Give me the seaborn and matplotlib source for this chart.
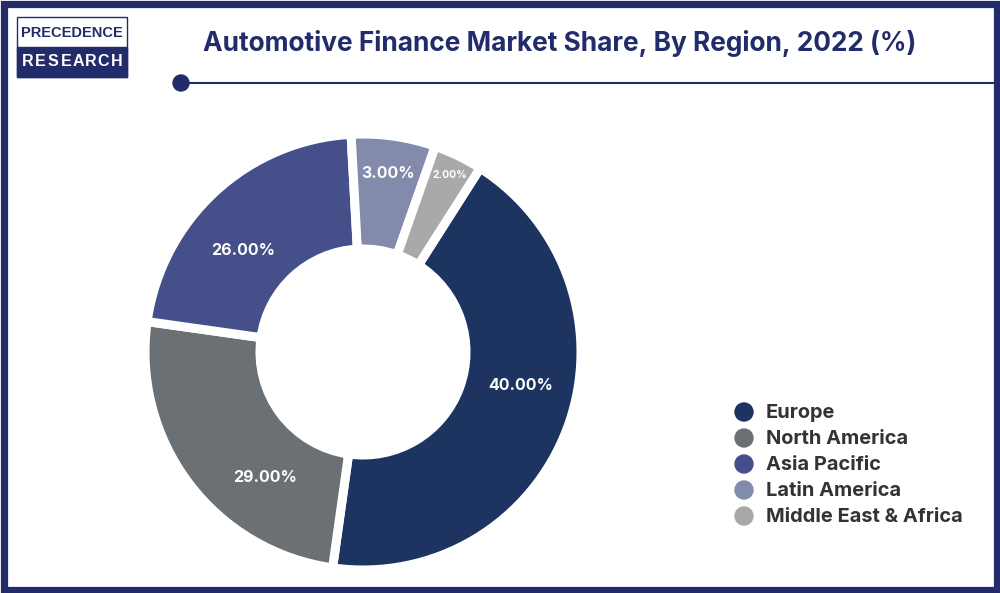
"""
Automotive finance market share by region, donut figure
"""

import seaborn as sns
import matplotlib.pyplot as plt
from matplotlib.patches import Rectangle, Circle

## CONFIG #####################################################################
regions = ["Europe", "North America", "Asia Pacific", "Latin America", "Middle East & Africa"]
shares = [43.2, 25.0, 21.9, 6.25, 3.65]     # Slice sizes as drawn in the picture
labels = ["40.00%", "29.00%", "26.00%", "3.00%", "2.00%"]   # Printed values
label_size = [11.5, 11.5, 11.5, 11.5, 7.5]
colors = ["#1d3461", "#6b7075", "#45508a", "#828bac", "#a9a9a9"]

navy = "#232c6b"
font = "Inter"
logo_font = "Liberation Sans"
width, height = 1000, 593
cx, cy = 363, 352    # Donut centre, pixels
radius = 218         # Outer radius, pixels (white edge eats a few)

## MAIN #######################################################################
sns.set_theme(style="white")
plt.rcParams["font.family"] = [font, "DejaVu Sans"]

fig = plt.figure(figsize=(width / 100, height / 100), dpi=100)

# Page layer, in pixel coordinates
page = fig.add_axes([0, 0, 1, 1])
page.set_xlim(0, width)
page.set_ylim(height, 0)
page.axis("off")

page.add_patch(Rectangle((3.5, 3.5), width - 7, height - 7, fill=False, edgecolor=navy, linewidth=5.2))
page.plot([181, 1000], [83, 83], color=navy, linewidth=1.5)
page.add_patch(Circle((181, 83), 8, color=navy))
page.text(559.5, 43.5, "Automotive Finance Market Share, By Region, 2022 (%)",
          ha="center", va="center", fontsize=18.9, fontweight="bold", color=navy)

# Logo
page.add_patch(Rectangle((17, 17), 110, 60, facecolor="white", edgecolor=navy, linewidth=1))
page.add_patch(Rectangle((17, 47), 110, 30, facecolor=navy, edgecolor=navy, linewidth=1))
page.text(72, 33, "PRECEDENCE", ha="center", va="center", fontsize=10.5, color=navy,
          family=logo_font, fontweight="bold")
for i, ch in enumerate("RESEARCH"):
    page.text(28 + i * 12.6, 62, ch, ha="center", va="center", fontsize=11.5, color="white",
              family=logo_font, fontweight="bold")

# Donut
ax = fig.add_axes([(cx - radius) / width, 1 - (cy + radius) / height,
                   2 * radius / width, 2 * radius / height])
wedges, _ = ax.pie(shares, colors=colors, startangle=57.5, counterclock=False, radius=1,
                   wedgeprops={"width": 115 / radius, "edgecolor": "white", "linewidth": 6.5})
ax.set_xlim(-1, 1)
ax.set_ylim(-1, 1)
ax.axis("off")

label_pos = [(521, 385.5), (265, 477.5), (243, 250.5), (388, 173.5), (450, 175)]
for (x, y), text, size in zip(label_pos, labels, label_size):
    page.text(x, y, text, ha="center", va="center", fontsize=size, fontweight="bold",
              color="white", zorder=5)
page.set_zorder(ax.get_zorder() + 1)
page.patch.set_alpha(0)

# Legend
for i, (name, color) in enumerate(zip(regions, colors)):
    y = 412 + i * 26
    page.add_patch(Circle((744, y), 9, color=color))
    page.text(766, y + 1, name, ha="left", va="center", fontsize=14.4, fontweight="bold", color="#333333")

plt.savefig("out.png", dpi=100)
